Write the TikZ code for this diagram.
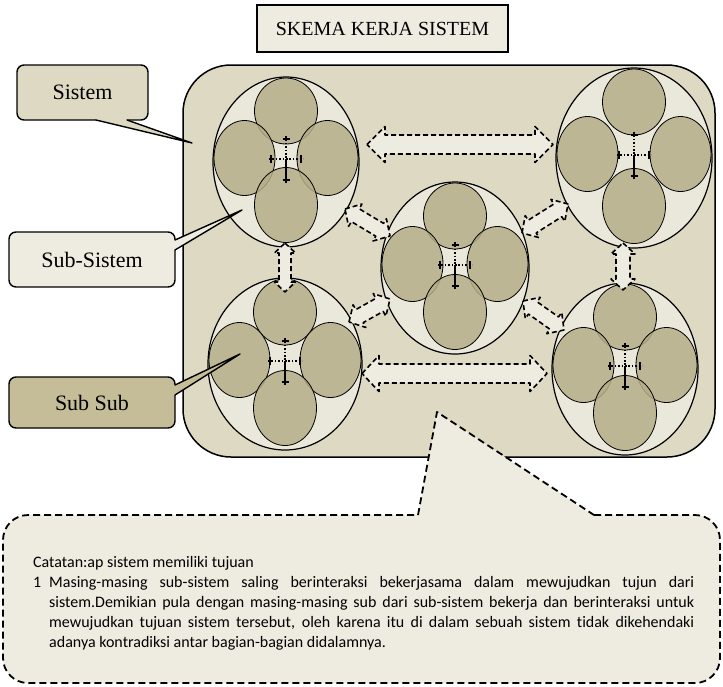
\documentclass[tikz,border=0pt]{standalone}
\usepackage{fontspec}
\setmainfont{Liberation Serif}
\newfontfamily\notefont[Ligatures=NoCommon]{Carlito}
\usetikzlibrary{shapes.geometric,calc}

\definecolor{systan}{HTML}{DDD9C3}
\definecolor{paper}{HTML}{EEECE1}
\definecolor{ellfill}{HTML}{EAE7DB}
\definecolor{subolive}{HTML}{B5AE88}
\definecolor{subsubtan}{HTML}{C4BD97}

\tikzset{
  sysbox/.style={draw, line width=1.5pt, fill=systan, rounded corners=48pt, inner sep=0pt},
  subell/.style={ellipse, draw, line width=1.2pt, fill=ellfill, inner sep=0pt},
  subcirc/.style={ellipse, draw, line width=0.8pt, fill=subolive, fill opacity=0.85, inner sep=0pt},
  blk/.style={draw, fill=paper, line width=1.6pt, dash pattern=on 5pt off 3pt, line join=round},
  labbox/.style={draw, line width=1.4pt, rounded corners=7pt, inner sep=0pt, font=\fontsize{22}{26}\selectfont},
  pointer/.style={line width=1.4pt, line join=round, line cap=round},
  notedash/.style={line width=1.8pt, dash pattern=on 7pt off 4pt},
  notetext/.style={anchor=base west, inner sep=0pt, font=\notefont\fontsize{16}{20}\selectfont},
  dotline/.style={line width=1.7pt, dash pattern=on 1.6pt off 1.8pt},
  ctrcross/.pic={
    \draw[dotline] (0,-26) -- (0,-3);
    \draw[line width=1.2pt] (0,-3) -- (0,21);
    \draw[dotline] (-17,-3) -- (17,-3);
    \draw[line width=1.3pt] (-3.5,-23) -- (3.5,-23) (-3.5,18) -- (3.5,18) (-15,-7) -- (-15,1) (15,-7) -- (15,1);
  },
}

% one sub-system: outer ellipse, four sub-sub circles, central cross
% #1 name, #2 #3 centre, #4 #5 half axes
\newcommand{\subsys}[5]{%
  \node[subell, minimum width={2*#4}, minimum height={2*#5}] (#1) at (#2,#3) {};
  \node[subcirc, minimum width=63, minimum height=66] (#1-t) at ($(#1)+(0,{34-#5})$) {};
  \node[subcirc, minimum width=61, minimum height=75] (#1-l) at ($(#1)+({31.5-#4},-4)$) {};
  \node[subcirc, minimum width=61, minimum height=75] (#1-r) at ($(#1)+({#4-31.5},-4)$) {};
  \node[subcirc, minimum width=63, minimum height=75] (#1-b) at ($(#1)+(0,{#5-42})$) {};
  \pic at (#1) {ctrcross};
}

% dashed block arrow with two heads between two named tips
% #1 #2 tips, #3 shaft half width, #4 head half width, #5 head length
\newcommand{\blockarrow}[5]{%
  \coordinate (ba-p) at ($(#1)!#5pt!(#2)$);
  \coordinate (ba-q) at ($(#2)!#5pt!(#1)$);
  \draw[blk] (#1)
    -- ($(ba-p)!#4pt!90:(#2)$) -- ($(ba-p)!#3pt!90:(#2)$)
    -- ($(ba-q)!#3pt!-90:(#1)$) -- ($(ba-q)!#4pt!-90:(#1)$)
    -- (#2)
    -- ($(ba-q)!#4pt!90:(#1)$) -- ($(ba-q)!#3pt!90:(#1)$)
    -- ($(ba-p)!#3pt!-90:(#2)$) -- ($(ba-p)!#4pt!-90:(#2)$)
    -- cycle;
}

\begin{document}
\begin{tikzpicture}[x=1pt,y=-1pt]
\useasboundingbox (0,0) rectangle (723,686);

% the system
\node[sysbox, minimum width=532, minimum height=392] (sys) at (449,261) {};

% sub-systems
\subsys{sA}{286}{162}{73}{85}
\subsys{sB}{285}{364}{77}{86}
\subsys{sC}{455}{268}{74}{86}
\subsys{sD}{634}{158}{78}{90}
\subsys{sE}{625}{369}{73}{86}

% interactions between sub-systems
\coordinate (h1a) at (367,144.5);  \coordinate (h1b) at (553,144.5);
\coordinate (h2a) at (362,373.5);  \coordinate (h2b) at (547,373.5);
\coordinate (v1a) at (285,243);    \coordinate (v1b) at (285,292);
\coordinate (v2a) at (623,243);    \coordinate (v2b) at (623,290);
\coordinate (d1a) at (345,209);    \coordinate (d1b) at (390,236);
\coordinate (d2a) at (522,233);    \coordinate (d2b) at (568,204);
\coordinate (d3a) at (349,322);    \coordinate (d3b) at (390,299);
\coordinate (d4a) at (523,301);    \coordinate (d4b) at (564,330);
\blockarrow{h1a}{h1b}{9.5}{18}{18}
\blockarrow{h2a}{h2b}{9.5}{18}{17}
\blockarrow{v1a}{v1b}{6}{10.5}{10}
\blockarrow{v2a}{v2b}{7}{12}{11}
\blockarrow{d1a}{d1b}{7.5}{13}{12}
\blockarrow{d2a}{d2b}{7.5}{13}{12}
\blockarrow{d3a}{d3b}{7.5}{13}{12}
\blockarrow{d4a}{d4b}{7.5}{13}{12}

% labels with pointers
\node[labbox, fill=systan, minimum width=131, minimum height=55] (lsistem) at (82.5,92.5) {Sistem};
\fill[systan] (96,116) -- (96,120) -- (192,143) -- (127,120) -- (127,116) -- cycle;
\draw[pointer] (96,120) -- (192,143) -- (127,120);

\node[labbox, fill=paper, minimum width=166, minimum height=55] (lsub) at (92,259.5) {Sub-Sistem};
\fill[paper] (171,240) -- (175,240) -- (242,210) -- (175,250) -- (171,250) -- cycle;
\draw[pointer] (175,240) -- (242,210) -- (175,250);

\node[labbox, fill=subsubtan, minimum width=166, minimum height=51] (lsubsub) at (92,402.5) {Sub Sub};
\fill[subsubtan] (171,385) -- (175,385) -- (240,354) -- (175,395) -- (171,395) -- cycle;
\draw[pointer] (175,385) -- (240,354) -- (175,395);

% note callout
\fill[paper, rounded corners=25pt] (3,515) rectangle (720,683);
\fill[paper] (418,516) -- (437,412) -- (594,516) -- cycle;
\draw[notedash, rounded corners=25pt] (594,515) -- (720,515) -- (720,683) -- (3,683) -- (3,515) -- (418,515);
\draw[notedash, line join=round] (418,515) -- (437,412) -- (594,515);

\node[notetext] (n0) at (33,567) {Catatan:ap sistem memiliki tujuan};
\node[notetext] (n1) at (33,587) {1};
\node[notetext] (n1t) at (49,587) {\makebox[645pt][s]{Masing-masing sub-sistem saling berinteraksi bekerjasama dalam mewujudkan tujun dari}};
\node[notetext] (n2t) at (49,607) {\makebox[645pt][s]{sistem.Demikian pula dengan masing-masing sub dari sub-sistem bekerja dan berinteraksi untuk}};
\node[notetext] (n3t) at (49,627) {\makebox[645pt][s]{mewujudkan tujuan sistem tersebut, oleh karena itu di dalam sebuah sistem tidak dikehendaki}};
\node[notetext] (n4t) at (49,647) {adanya kontradiksi antar bagian-bagian didalamnya.};

% title
\node[draw, line width=2.4pt, fill=paper, minimum width=251, minimum height=47, inner sep=0pt,
      font=\fontsize{20}{24}\selectfont] (title) at (382.5,28.5) {SKEMA KERJA SISTEM};
\end{tikzpicture}
\end{document}
